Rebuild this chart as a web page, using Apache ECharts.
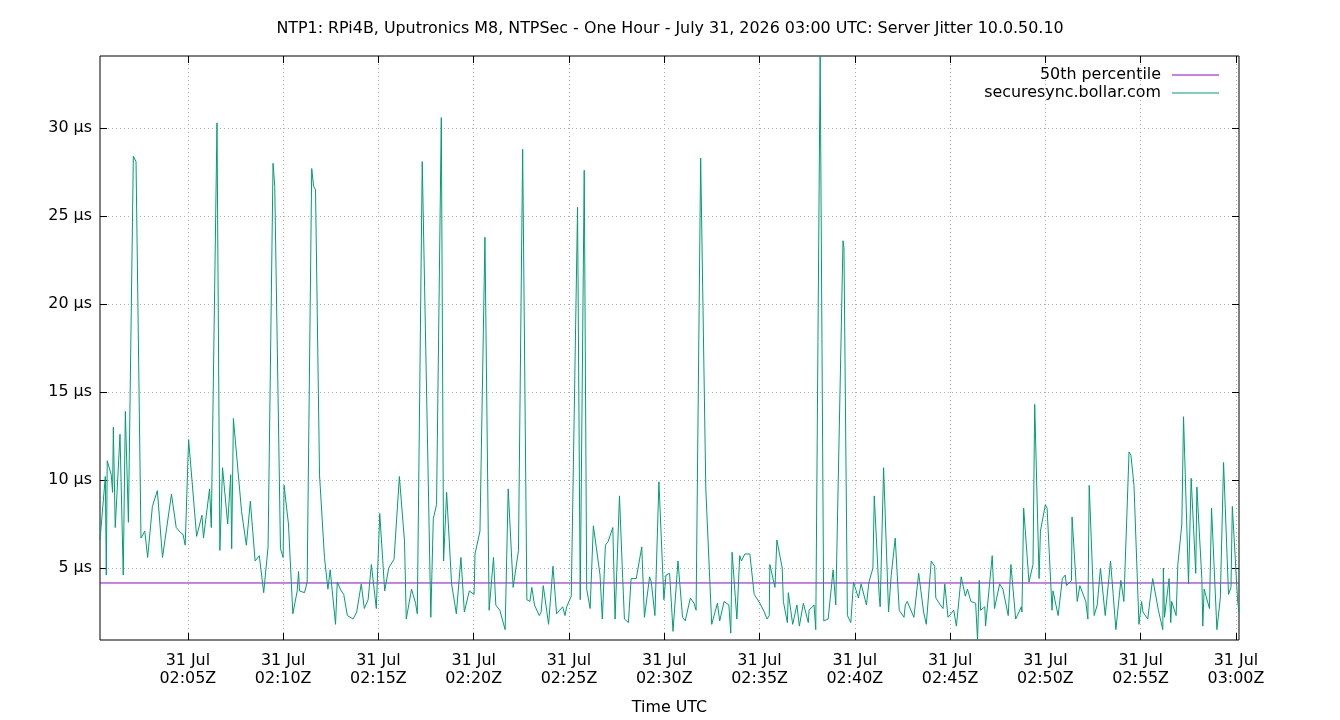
<!DOCTYPE html>
<html>
<head>
<meta charset="utf-8">
<title>NTP1 Server Jitter</title>
<script src="https://cdn.jsdelivr.net/npm/echarts@6/dist/echarts.min.js"></script>
<style>
  html, body { margin: 0; padding: 0; background: #fff; }
  #chart { width: 1340px; height: 720px; }
</style>
</head>
<body>
<div id="chart"></div>
<script>
// sample times, minutes after 02:00 UTC on 31 Jul 2026
var sampleMinutes = [
  0.39, 0.67, 0.72, 0.77, 0.98, 1.05, 1.09, 1.19, 1.44, 1.61,
  1.72, 1.88, 2.14, 2.28, 2.54, 2.74, 2.89, 3.14, 3.23, 3.40,
  3.67, 4.14, 4.39, 4.63, 4.75, 4.86, 5.04, 5.46, 5.74, 5.82,
  6.14, 6.23, 6.53, 6.68, 6.82, 7.09, 7.25, 7.30, 7.39, 7.82,
  8.07, 8.28, 8.53, 8.75, 8.98, 9.21, 9.47, 9.56, 9.86, 10.00,
  10.05, 10.28, 10.51, 10.74, 10.81, 10.86, 11.12, 11.26, 11.50, 11.60,
  11.70, 11.91, 12.17, 12.35, 12.47, 12.75, 12.84, 13.05, 13.18, 13.37,
  13.67, 13.86, 14.10, 14.26, 14.46, 14.63, 14.89, 15.07, 15.33, 15.54,
  15.82, 16.10, 16.37, 16.46, 16.74, 16.95, 17.04, 17.12, 17.30, 17.75,
  17.88, 18.05, 18.30, 18.42, 18.58, 18.84, 19.09, 19.33, 19.51, 19.77,
  20.02, 20.07, 20.33, 20.59, 20.81, 21.04, 21.16, 21.37, 21.65, 21.81,
  22.07, 22.35, 22.57, 22.79, 22.95, 23.05, 23.19, 23.44, 23.54, 23.65,
  23.93, 24.16, 24.35, 24.67, 24.79, 24.88, 25.12, 25.19, 25.45, 25.59,
  25.80, 25.93, 26.11, 26.28, 26.63, 26.75, 26.91, 27.05, 27.30, 27.42,
  27.65, 27.79, 27.82, 27.91, 28.12, 28.26, 28.53, 28.82, 28.96, 29.23,
  29.32, 29.51, 29.72, 29.98, 30.09, 30.28, 30.46, 30.72, 30.96, 31.10,
  31.37, 31.56, 31.67, 31.91, 32.18, 32.49, 32.79, 32.91, 33.14, 33.39,
  33.49, 33.56, 33.81, 33.96, 34.05, 34.23, 34.49, 34.58, 34.72, 35.02,
  35.25, 35.39, 35.51, 35.54, 35.81, 35.91, 36.19, 36.25, 36.46, 36.51,
  36.74, 36.96, 37.09, 37.30, 37.56, 37.60, 37.86, 37.95, 38.18, 38.37,
  38.60, 38.86, 39.00, 39.38, 39.43, 39.61, 39.79, 39.93, 40.19, 40.33,
  40.61, 40.74, 40.95, 41.02, 41.28, 41.33, 41.51, 41.77, 41.91, 42.12,
  42.33, 42.58, 42.65, 42.75, 43.10, 43.35, 43.61, 43.75, 44.01, 44.19,
  44.25, 44.49, 44.58, 44.63, 44.72, 44.89, 45.19, 45.33, 45.58, 45.80,
  45.91, 46.09, 46.34, 46.44, 46.53, 46.60, 46.82, 46.86, 47.21, 47.33,
  47.60, 47.77, 48.05, 48.19, 48.44, 48.74, 48.77, 48.86, 49.14, 49.35,
  49.44, 49.67, 49.74, 50.00, 50.09, 50.35, 50.40, 50.67, 50.89, 51.04,
  51.11, 51.37, 51.40, 51.67, 51.81, 52.12, 52.23, 52.30, 52.56, 52.72,
  52.89, 53.14, 53.42, 53.70, 53.96, 54.12, 54.39, 54.49, 54.65, 54.91,
  55.05, 55.12, 55.37, 55.63, 55.93, 56.16, 56.19, 56.25, 56.49, 56.58,
  56.63, 56.86, 56.95, 57.16, 57.25, 57.51, 57.65, 57.89, 57.95, 58.21,
  58.26, 58.33, 58.61, 58.72, 59.00, 59.18, 59.35, 59.61, 59.74, 59.81,
  60.09, 60.16
];
// server jitter, µs
var jitterUs = [
  6.6, 10.2, 4.6, 11.1, 10.3, 9.3, 13.0, 7.3, 12.6, 4.6,
  13.9, 7.6, 28.4, 28.1, 6.7, 7.1, 5.6, 8.5, 8.5, 9.4,
  5.6, 9.2, 7.3, 7.0, 6.9, 6.3, 12.3, 6.8, 8.0, 6.7,
  9.5, 7.3, 30.3, 6.0, 10.7, 7.5, 10.3, 6.1, 13.5, 8.2,
  6.3, 8.8, 5.4, 5.7, 3.6, 6.2, 28.0, 26.7, 6.1, 5.6,
  9.7, 7.5, 2.4, 3.7, 4.8, 3.7, 3.6, 4.2, 27.7, 26.7,
  26.5, 10.3, 5.6, 3.8, 4.9, 1.8, 4.2, 3.7, 3.5, 2.3,
  2.1, 2.5, 4.1, 2.7, 3.2, 5.2, 2.7, 8.1, 3.7, 5.0,
  5.5, 10.2, 6.5, 2.1, 3.8, 3.0, 2.4, 2.5, 28.1, 2.2,
  7.8, 8.6, 30.6, 5.4, 9.3, 4.1, 2.4, 5.6, 2.5, 3.7,
  3.5, 5.8, 7.1, 23.8, 2.6, 5.6, 2.9, 2.6, 1.5, 9.5,
  3.9, 6.0, 28.8, 3.2, 3.1, 3.9, 2.9, 2.3, 2.5, 4.0,
  1.8, 5.1, 2.4, 2.8, 2.3, 2.8, 3.4, 3.3, 25.5, 3.2,
  27.6, 3.8, 2.7, 7.4, 4.6, 2.1, 6.3, 6.5, 7.3, 2.1,
  9.1, 5.2, 4.4, 2.1, 1.9, 4.4, 4.4, 6.2, 2.2, 4.5,
  4.2, 2.3, 9.9, 3.2, 4.6, 4.7, 1.4, 5.4, 2.2, 2.0,
  3.3, 3.0, 2.6, 28.3, 9.5, 1.8, 3.0, 2.0, 3.1, 2.9,
  1.3, 5.9, 2.1, 5.7, 5.4, 5.8, 5.8, 5.7, 3.5, 3.0,
  2.5, 2.1, 2.3, 5.2, 3.9, 6.6, 5.0, 3.1, 1.9, 3.6,
  1.8, 2.9, 1.7, 3.0, 1.9, 2.6, 2.9, 1.5, 34.1, 2.0,
  2.1, 4.9, 2.9, 23.6, 23.2, 2.3, 1.9, 4.2, 3.3, 4.1,
  2.9, 4.2, 5.0, 9.1, 3.4, 2.8, 10.7, 2.5, 4.6, 6.7,
  2.6, 2.2, 2.9, 3.1, 2.2, 4.7, 2.5, 1.8, 5.4, 5.1,
  3.3, 2.9, 2.9, 2.7, 4.1, 2.2, 2.6, 1.7, 4.5, 3.4,
  3.8, 3.1, 3.0, 0.91, 4.3, 2.6, 2.8, 1.7, 5.7, 2.7,
  4.1, 3.8, 2.3, 5.2, 2.1, 2.8, 2.5, 8.4, 4.2, 5.2,
  14.3, 4.4, 7.1, 8.6, 8.4, 2.6, 3.7, 2.3, 4.4, 4.6,
  4.0, 4.3, 7.9, 3.1, 4.0, 3.1, 2.1, 9.7, 2.3, 2.9,
  5.0, 2.3, 5.4, 1.5, 4.3, 3.1, 11.6, 11.4, 9.7, 1.8,
  3.1, 2.5, 2.1, 4.4, 2.6, 1.5, 5.0, 2.2, 4.4, 1.9,
  3.1, 2.3, 5.2, 7.5, 13.6, 4.1, 10.1, 4.7, 9.6, 4.4,
  1.7, 3.8, 2.7, 8.4, 1.5, 3.3, 11.0, 3.5, 3.9, 8.5,
  3.1, 2.5
];
var median = 4.15; // 50th percentile, µs
var xTicks = [5, 10, 15, 20, 25, 30, 35, 40, 45, 50, 55, 60];
var yTicks = [5, 10, 15, 20, 25, 30];

var FONT = 'DejaVu Sans';
var FS = 15.9;

var xMin = sampleMinutes[0];
var xMax = sampleMinutes[sampleMinutes.length - 1];
var yMin = Math.min.apply(null, jitterUs);
var yMax = Math.max.apply(null, jitterUs);

var jitterData = sampleMinutes.map(function (m, i) { return [m, jitterUs[i]]; });
var medianData = [[xMin, median], [xMax, median]];

function pad(n) { return (n < 10 ? '0' : '') + n; }
function timeLabel(m) {
  var h = 2 + Math.floor(m / 60);
  return '31 Jul\n' + pad(h) + ':' + pad(Math.round(m % 60)) + 'Z';
}

var gridLine = { show: true, lineStyle: { color: '#b0b0b0', width: 1, type: [1, 3] } };
var tickIn = { show: true, inside: true, length: 7, lineStyle: { color: '#000', width: 1 } };

var chart = echarts.init(document.getElementById('chart'));
var option = {
  animation: false,
  backgroundColor: '#fff',
  title: {
    text: 'NTP1: RPi4B, Uputronics M8, NTPSec - One Hour - July 31, 2026 03:00 UTC: Server Jitter 10.0.50.10',
    left: 'center',
    top: 21,
    padding: 0,
    textStyle: { fontFamily: FONT, fontSize: FS, fontWeight: 'normal', color: '#000' }
  },
  legend: {
    orient: 'vertical',
    right: 121,
    top: 66,
    padding: 0,
    itemGap: 0,
    align: 'right',
    icon: 'rect',
    itemWidth: 47,
    itemHeight: 1,
    selectedMode: false,
    data: ['50th percentile', 'securesync.bollar.com'],
    textStyle: { fontFamily: FONT, fontSize: FS, color: '#000', lineHeight: 18, padding: [0, 6, 0, 0] }
  },
  grid: {
    left: 100, right: 101, top: 56, bottom: 80,
    show: true, borderColor: '#000', borderWidth: 1,
    containLabel: false, outerBoundsMode: 'none'
  },
  xAxis: [{
    type: 'value',
    min: xMin, max: xMax,
    name: 'Time UTC',
    nameLocation: 'middle',
    nameGap: 60,
    nameTextStyle: { fontFamily: FONT, fontSize: FS, color: '#000' },
    axisLine: { show: false },
    axisTick: Object.assign({ customValues: xTicks }, tickIn),
    splitLine: gridLine,
    axisLabel: {
      customValues: xTicks,
      formatter: timeLabel,
      margin: 12,
      lineHeight: 18,
      fontFamily: FONT, fontSize: FS, color: '#000'
    }
  }, {
    type: 'value',
    position: 'top',
    min: xMin, max: xMax,
    axisLine: { show: false },
    axisTick: Object.assign({ customValues: xTicks }, tickIn),
    axisLabel: { show: false, customValues: xTicks },
    splitLine: { show: false }
  }],
  yAxis: [{
    type: 'value',
    min: yMin, max: yMax,
    axisLine: { show: false },
    axisTick: Object.assign({ customValues: yTicks }, tickIn),
    splitLine: gridLine,
    axisLabel: {
      customValues: yTicks,
      formatter: function (v) { return v + ' µs'; },
      margin: 8,
      fontFamily: FONT, fontSize: FS, color: '#000'
    }
  }, {
    type: 'value',
    position: 'right',
    min: yMin, max: yMax,
    axisLine: { show: false },
    axisTick: Object.assign({ customValues: yTicks }, tickIn),
    axisLabel: { show: false, customValues: yTicks },
    splitLine: { show: false }
  }],
  series: [{
    name: '50th percentile',
    type: 'line',
    data: medianData,
    showSymbol: false,
    symbol: 'none',
    color: '#9400d3',
    lineStyle: { color: '#9400d3', width: 1 },
    z: 2
  }, {
    name: 'securesync.bollar.com',
    type: 'line',
    data: jitterData,
    showSymbol: false,
    symbol: 'none',
    color: '#009e73',
    lineStyle: { color: '#009e73', width: 1 },
    z: 3
  }]
};
chart.setOption(option);
</script>
</body>
</html>
